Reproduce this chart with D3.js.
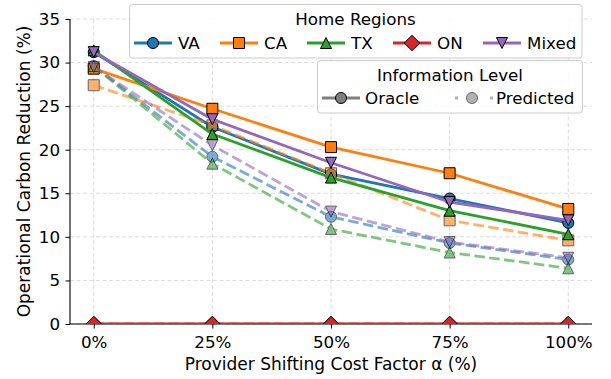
<!DOCTYPE html>
<html>
<head>
<meta charset="utf-8">
<script src="https://cdn.jsdelivr.net/npm/d3@7/dist/d3.min.js"></script>
<style>
  html, body { margin: 0; padding: 0; background: #fff; }
  svg { display: block; font-family: "DejaVu Sans", sans-serif; }
</style>
</head>
<body>
<svg id="chart" width="611" height="379"></svg>
<script>
// Shifting cost factor (x) and tick labels
const alphas = [0, 25, 50, 75, 100];
const xTickLabels = ["0%", "25%", "50%", "75%", "100%"];
const yTicks = [0, 5, 10, 15, 20, 25, 30, 35];

// Home regions
const regions = ["VA", "CA", "TX", "ON", "Mixed"];
const regionColors = ["#1f77b4", "#ff7f0e", "#2ca02c", "#d62728", "#9467bd"];
const regionSymbols = ["circle", "square", "triangleUp", "diamond", "triangleDown"];

// Operational carbon reduction (%) with oracle information
const oracleVA    = [31.2, 22.6, 17.2, 14.4, 11.6];
const oracleCA    = [29.3, 24.7, 20.3, 17.3, 13.2];
const oracleTX    = [31.4, 21.8, 16.8, 13.0, 10.3];
const oracleON    = [0, 0, 0, 0, 0];
const oracleMixed = [31.2, 23.5, 18.5, 14.0, 11.9];

// Operational carbon reduction (%) with predicted information
const predVA    = [29.6, 19.2, 12.3, 9.3, 7.4];
const predCA    = [27.4, 22.8, 17.3, 11.9, 9.6];
const predTX    = [29.6, 18.4, 10.9, 8.2, 6.4];
const predON    = [0, 0, 0, 0, 0];
const predMixed = [29.5, 20.5, 12.9, 9.4, 7.6];

const oracleSeries = [oracleVA, oracleCA, oracleTX, oracleON, oracleMixed];
const predSeries = [predVA, predCA, predTX, predON, predMixed];

const FONT = 16.7;
const svg = d3.select("#chart");
const plot = { left: 70, right: 592, top: 19, bottom: 324 };

const x = d3.scaleLinear().domain([-5, 105]).range([plot.left, plot.right]);
const y = d3.scaleLinear().domain([0, 35]).range([plot.bottom, plot.top]);

// Marker shapes, centred on the origin
const MS = 11;
function markerPath(sym) {
  const h = MS / 2;
  switch (sym) {
    case "circle":
      return `M${h},0A${h},${h} 0 1,1 ${-h},0A${h},${h} 0 1,1 ${h},0Z`;
    case "square":
      return `M${-h},${-h}H${h}V${h}H${-h}Z`;
    case "triangleUp":
      return `M0,${-h}L${h},${h}L${-h},${h}Z`;
    case "triangleDown":
      return `M0,${h}L${h},${-h}L${-h},${-h}Z`;
    case "diamond": {
      const d = h * Math.SQRT2;
      return `M0,${-d}L${d},0L0,${d}L${-d},0Z`;
    }
  }
}

svg.append("defs").append("clipPath").attr("id", "plotClip")
  .append("rect")
  .attr("x", plot.left).attr("y", plot.top - 10)
  .attr("width", plot.right - plot.left + 10)
  .attr("height", plot.bottom - plot.top + 10);

// Grid
const grid = svg.append("g");
grid.selectAll("line.gy").data(yTicks).join("line")
  .attr("x1", plot.left).attr("x2", plot.right)
  .attr("y1", d => y(d)).attr("y2", d => y(d))
  .attr("stroke", "#b0b0b0").attr("stroke-opacity", 0.5)
  .attr("stroke-width", 0.9).attr("stroke-dasharray", "4,2.5");
grid.selectAll("line.gx").data(alphas).join("line")
  .attr("x1", d => x(d)).attr("x2", d => x(d))
  .attr("y1", plot.top).attr("y2", plot.bottom)
  .attr("stroke", "#b0b0b0").attr("stroke-opacity", 0.5)
  .attr("stroke-width", 0.9).attr("stroke-dasharray", "4,2.5");

// Axes
const xAxis = d3.axisBottom(x).tickValues(alphas)
  .tickFormat((d, i) => xTickLabels[i]).tickSize(4.5).tickPadding(7.5);
const yAxis = d3.axisLeft(y).tickValues(yTicks).tickSize(4.5).tickPadding(5.5);

const gx = svg.append("g").attr("transform", `translate(0,${plot.bottom})`).call(xAxis);
const gy = svg.append("g").attr("transform", `translate(${plot.left},0)`).call(yAxis);
[gx, gy].forEach(g => {
  g.select(".domain").attr("stroke", "#000").attr("stroke-width", 1.1);
  g.selectAll(".tick line").attr("stroke", "#000").attr("stroke-width", 1);
  g.selectAll(".tick text").attr("font-size", FONT).attr("fill", "#000")
    .attr("font-family", "DejaVu Sans");
});
gx.select(".domain").attr("d", `M${plot.left},0H${plot.right}`);
gy.select(".domain").attr("d", `M0,${plot.top}V${plot.bottom}`);

// Axis labels
svg.append("text")
  .attr("x", (plot.left + plot.right) / 2).attr("y", 369.5)
  .attr("text-anchor", "middle").attr("font-size", 17)
  .text("Provider Shifting Cost Factor α (%)");
svg.append("text")
  .attr("transform", `translate(30,${(plot.top + plot.bottom) / 2}) rotate(-90)`)
  .attr("text-anchor", "middle").attr("font-size", 17)
  .text("Operational Carbon Reduction (%)");

// Series
const line = d3.line().x((d, i) => x(alphas[i])).y(d => y(d));
const series = svg.append("g").attr("clip-path", "url(#plotClip)");

regions.forEach((r, k) => {
  const col = regionColors[k];
  const sym = regionSymbols[k];
  // Oracle: solid line
  const go = series.append("g");
  go.append("path").attr("d", line(oracleSeries[k]))
    .attr("fill", "none").attr("stroke", col).attr("stroke-width", 2.8)
    .attr("stroke-linejoin", "round").attr("stroke-linecap", "square");
  go.selectAll("path.m").data(oracleSeries[k]).join("path")
    .attr("d", markerPath(sym))
    .attr("transform", (d, i) => `translate(${x(alphas[i])},${y(d)})`)
    .attr("fill", col).attr("stroke", "#000").attr("stroke-width", 1);
  // Predicted: dashed, translucent
  const gp = series.append("g").attr("opacity", 0.6);
  gp.append("path").attr("d", line(predSeries[k]))
    .attr("fill", "none").attr("stroke", col).attr("stroke-width", 2.8)
    .attr("stroke-dasharray", "10.5,4.5");
  gp.selectAll("path.m").data(predSeries[k]).join("path")
    .attr("d", markerPath(sym))
    .attr("transform", (d, i) => `translate(${x(alphas[i])},${y(d)})`)
    .attr("fill", col).attr("stroke", "#000").attr("stroke-width", 1);
});

// Legend: Home Regions
function legendBox(x0, y0, w, h) {
  svg.append("rect").attr("x", x0).attr("y", y0).attr("width", w).attr("height", h)
    .attr("rx", 3).attr("fill", "#fff").attr("fill-opacity", 0.85)
    .attr("stroke", "#cccccc").attr("stroke-width", 1);
}
legendBox(129.5, 4.5, 452.5, 53.5);
svg.append("text").attr("x", 355.5).attr("y", 24.5).attr("text-anchor", "middle")
  .attr("font-size", FONT).text("Home Regions");
const regionLegendX = [134, 220, 307, 393, 483];
regions.forEach((r, k) => {
  const lx = regionLegendX[k], ly = 43;
  const sym = regionSymbols[k];
  svg.append("line").attr("x1", lx).attr("x2", lx + 38).attr("y1", ly).attr("y2", ly)
    .attr("stroke", regionColors[k]).attr("stroke-width", 2.8);
  svg.append("path").attr("d", markerPath(sym))
    .attr("transform", `translate(${lx + 19},${ly})`)
    .attr("fill", regionColors[k]).attr("stroke", "#000").attr("stroke-width", 1);
  svg.append("text").attr("x", lx + 44).attr("y", ly + 6)
    .attr("font-size", FONT).text(r);
});

// Legend: Information Level
const infoLevels = ["Oracle", "Predicted"];
legendBox(317.5, 60.5, 265, 52.5);
svg.append("text").attr("x", 450).attr("y", 80.5).attr("text-anchor", "middle")
  .attr("font-size", FONT).text("Information Level");
const infoX = [322, 455];
infoLevels.forEach((lab, k) => {
  const lx = infoX[k], ly = 98;
  const g = svg.append("g").attr("opacity", k === 0 ? 1 : 0.6);
  g.append("line").attr("x1", lx).attr("x2", lx + 38).attr("y1", ly).attr("y2", ly)
    .attr("stroke", "#7f7f7f").attr("stroke-width", 2.8)
    .attr("stroke-dasharray", k === 0 ? null : "3,32");
  g.append("path").attr("d", markerPath("circle"))
    .attr("transform", `translate(${lx + (k === 0 ? 19 : 17)},${ly})`)
    .attr("fill", "#7f7f7f").attr("stroke", "#000").attr("stroke-width", 1);
  svg.append("text").attr("x", lx + (k === 0 ? 43 : 41)).attr("y", ly + 6)
    .attr("font-size", FONT).text(lab);
});
</script>
</body>
</html>
